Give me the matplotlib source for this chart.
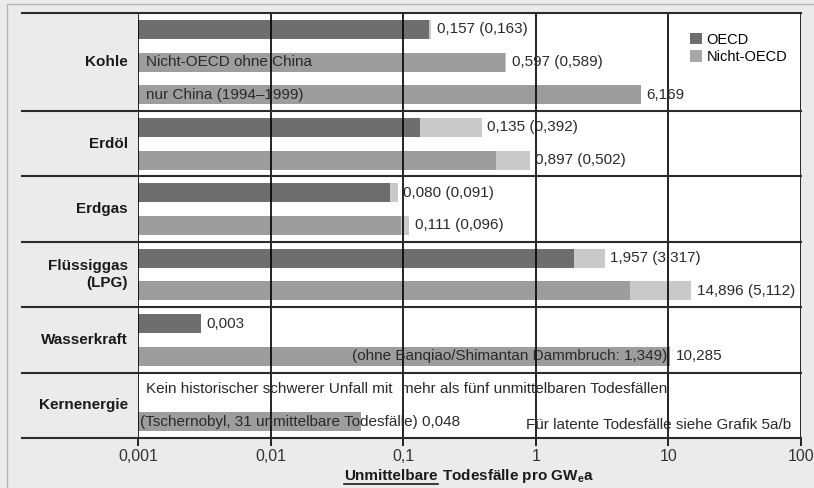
import matplotlib
matplotlib.use("Agg")
import matplotlib.pyplot as plt
from matplotlib.patches import Patch
from matplotlib.lines import Line2D
from matplotlib.ticker import NullLocator
import numpy as np

plt.rcParams['font.family'] = ['Liberation Sans', 'DejaVu Sans']
plt.rcParams['mathtext.fontset'] = 'custom'
plt.rcParams['mathtext.rm'] = 'Liberation Sans'
plt.rcParams['mathtext.bf'] = 'Liberation Sans:bold'

# Categories, each with the number of bar slots it occupies
categories = ['Kohle', 'Erdöl', 'Erdgas', 'Flüssiggas\n(LPG)', 'Wasserkraft', 'Kernenergie']
category_rows = [3, 2, 2, 2, 2, 2]

# One entry per row (top to bottom); None = no bar in that row
row_series = ['OECD', 'Nicht-OECD', 'Nicht-OECD',
              'OECD', 'Nicht-OECD',
              'OECD', 'Nicht-OECD',
              'OECD', 'Nicht-OECD',
              'OECD', 'Nicht-OECD',
              None, 'Nicht-OECD']
row_values = [0.157, 0.597, 6.169,
              0.135, 0.897,
              0.080, 0.111,
              1.957, 14.896,
              0.003, 10.285,
              None, 0.048]
# values in brackets (second estimate), drawn as light extension
row_alt = [0.163, 0.589, None,
           0.392, 0.502,
           0.091, 0.096,
           3.317, 5.112,
           None, None,
           None, None]
row_inner_text = [None, 'Nicht-OECD ohne China', 'nur China (1994\u20131999)',
                  None, None, None, None, None, None,
                  None, '(ohne Banqiao/Shimantan Dammbruch: 1,349)',
                  None, '(Tschernobyl, 31 unmittelbare Todesfälle)']

x_ticks = [0.001, 0.01, 0.1, 1, 10, 100]
x_ticklabels = ['0,001', '0,01', '0,1', '1', '10', '100']

colors = {'OECD': '#6e6e6e', 'Nicht-OECD': '#9d9d9d'}
light = '#c9c9c9'
text_col = '#2a2a2a'
bg = '#ebebeb'


def fmt(v):
    return f'{v:.3f}'.replace('.', ',')


W, H = 814, 488
fig = plt.figure(figsize=(W / 100, H / 100), dpi=100, facecolor=bg)
ax = fig.add_axes([138 / W, 50 / H, 663 / W, 425 / H])
ax.set_facecolor('white')

n_rows = len(row_values)
ax.set_xscale('log')
ax.set_xlim(0.001, 100)
ax.set_ylim(n_rows, 0)
xmin = 0.001
bar_h = 0.58

for i, (s, v, a, txt) in enumerate(zip(row_series, row_values, row_alt, row_inner_text)):
    y = i + 0.5
    if v is None:
        continue
    lo = v if a is None else min(v, a)
    hi = v if a is None else max(v, a)
    if hi > lo:
        ax.barh(y, hi - xmin, left=xmin, height=bar_h, color=light, zorder=2)
    ax.barh(y, lo - xmin, left=xmin, height=bar_h, color=colors[s], zorder=3)
    label = fmt(v) if a is None else f'{fmt(v)} ({fmt(a)})'
    if i == n_rows - 1:
        # Tschernobyl text runs past the bar end
        ax.text(0.00103, y, f'{txt} {label}', va='center', ha='left',
                fontsize=11, color=text_col, zorder=5)
        continue
    ax.annotate(label, xy=(hi, y), xytext=(4, 0), textcoords='offset points',
                va='center', ha='left', fontsize=11, color=text_col, zorder=5)
    if txt is not None:
        if i == 10:
            ax.annotate(txt, xy=(v, y), xytext=(-2, 0), textcoords='offset points',
                        va='center', ha='right', fontsize=11, color=text_col, zorder=5)
        else:
            ax.annotate(txt, xy=(xmin, y), xytext=(6, 0), textcoords='offset points',
                        va='center', ha='left', fontsize=11, color=text_col, zorder=5)

# Kernenergie notes
ax.annotate('Kein historischer schwerer Unfall mit  mehr als fünf unmittelbaren Todesfällen',
            xy=(xmin, 11.5), xytext=(6, 0), textcoords='offset points',
            va='center', ha='left', fontsize=11, color=text_col, zorder=5)
ax.annotate('Für latente Todesfälle siehe Grafik 5a/b', xy=(100, 12.6), xytext=(-7, 0),
            textcoords='offset points', va='center', ha='right', fontsize=11,
            color=text_col, zorder=5)

# vertical grid / decade lines
for xt in x_ticks:
    ax.axvline(xt, color='black', lw=1.2, zorder=4)

for s in ax.spines.values():
    s.set_visible(False)
ax.set_xticks(x_ticks)
ax.set_xticklabels(x_ticklabels, fontsize=11.5, color='#333333')
ax.xaxis.set_minor_locator(NullLocator())
ax.tick_params(axis='x', length=6, width=1.2, color='black', pad=2)
ax.set_yticks([])

# group separators extending into the label column
left_ext = (22 - 138) / 663
bounds = np.concatenate([[0], np.cumsum(category_rows)])
for b in bounds:
    ax.plot([left_ext, 1], [1 - b / n_rows] * 2, transform=ax.transAxes,
            color='#2b2b2b', lw=1.5, clip_on=False, zorder=6)

# category labels
for k, cat in enumerate(categories):
    yc = (bounds[k] + bounds[k + 1]) / 2
    ax.text(-0.015, 1 - yc / n_rows, cat, transform=ax.transAxes, ha='right',
            va='center', fontsize=11, fontweight='bold', color='#1a1a1a',
            linespacing=1.3)

# legend
handles = [Patch(facecolor=colors['OECD']), Patch(facecolor='#a6a6a6')]
ax.legend(handles, ['OECD', 'Nicht-OECD'], loc='upper left',
          bbox_to_anchor=(0.817, 0.978), frameon=False, fontsize=10.5,
          handlelength=0.85, handleheight=0.85, handletextpad=0.3,
          labelspacing=0.25, borderpad=0.2)

# outer frame lines
fig.add_artist(Line2D([7 / W, 7 / W], [0, 1 - 4 / H], color='#b5b5b5', lw=1))
fig.add_artist(Line2D([7 / W, 1], [1 - 4 / H, 1 - 4 / H], color='#b5b5b5', lw=1))

# x label: underlined first word, then the rest
ly = 1 - 476 / H
t1 = fig.text(0, ly, 'Unmittelbare', ha='left', va='center', fontsize=11,
              fontweight='bold', color='#1a1a1a')
t2 = fig.text(0, ly, ' Todesfälle pro GW$_\\mathbf{e}$a', ha='left', va='center',
              fontsize=11, fontweight='bold', color='#1a1a1a')
fig.canvas.draw()
r = fig.canvas.get_renderer()
w1 = t1.get_window_extent(r).width
w2 = t2.get_window_extent(r).width
x0 = 469 - (w1 + w2) / 2
t1.set_x(x0 / W)
t2.set_x((x0 + w1) / W)
fig.canvas.draw()
bb1 = t1.get_window_extent(r)
uy = (bb1.y0 - 1) / H
fig.add_artist(Line2D([bb1.x0 / W, bb1.x1 / W], [uy, uy], color='#1a1a1a', lw=1.2))

fig.savefig('out.png', dpi=100, facecolor=bg)
